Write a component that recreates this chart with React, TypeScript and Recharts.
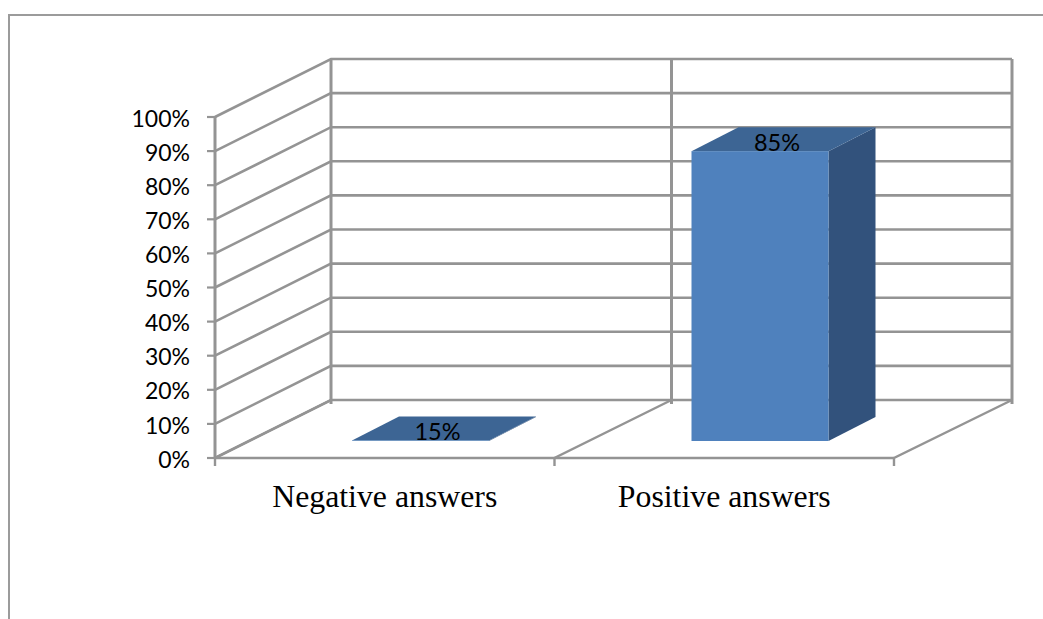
import { Bar, BarChart, CartesianGrid, LabelList, XAxis, YAxis } from "recharts";

const categories = ["Negative answers", "Positive answers"];
// the negative bar is drawn flat in the source chart although it is labelled 15%
const values = [0.15, 85];
const valueLabels = ["15%", "85%"];
const yTicks = [0, 10, 20, 30, 40, 50, 60, 70, 80, 90, 100];

const data = categories.map((name, i) => ({ name, value: values[i], label: valueLabels[i] }));

const GRID = "#949494";
const WALL_DX = 116;
const WALL_DY = 58;
const BAR_DX = 47;
const BAR_DY = 24;
const BAR_SHIFT_X = 36;
const BAR_SHIFT_Y = 17;
const LABEL_FONT = "Lato, 'Open Sans', sans-serif";

function wallLine({ x1, x2, y1 }: any) {
  return (
    <path
      key={`h-${y1}`}
      d={`M${x1},${y1} L${x1 + WALL_DX},${y1 - WALL_DY} L${x2 + WALL_DX + 2},${y1 - WALL_DY}`}
      fill="none"
      stroke={GRID}
      strokeWidth={2.6}
    />
  );
}

function wallColumn({ x1, y1, y2, index }: any) {
  const backX = x1 + WALL_DX + (index ?? 0);
  return (
    <g key={`v-${x1}`} fill="none" stroke={GRID}>
      <path d={`M${x1},${y2 + 8} L${x1},${y2} L${backX},${y2 - WALL_DY}`} strokeWidth={2.4} />
      <path d={`M${backX},${y2 - WALL_DY + 4} L${backX},${y1 - WALL_DY}`} strokeWidth={3} />
    </g>
  );
}

function Box3D({ x, y, width, height }: any) {
  const left = x + BAR_SHIFT_X;
  const right = left + width;
  const top = y - BAR_SHIFT_Y;
  const bottom = top + height;
  return (
    <g>
      <path
        d={`M${right},${top} L${right + BAR_DX},${top - BAR_DY} L${right + BAR_DX},${bottom - BAR_DY} L${right},${bottom} Z`}
        fill="#32527c"
      />
      <path
        d={`M${left},${top} L${left + BAR_DX},${top - BAR_DY} L${right + BAR_DX},${top - BAR_DY} L${right},${top} Z`}
        fill="#3d6594"
      />
      <rect x={left} y={top} width={width} height={height} fill="#4f81bd" />
    </g>
  );
}

function BarLabel({ x, y, width, value }: any) {
  return (
    <text
      x={x + BAR_SHIFT_X + width / 2 + 17}
      y={y - BAR_SHIFT_Y - 9}
      textAnchor="middle"
      dominantBaseline="central"
      fontFamily={LABEL_FONT}
      fontSize={23.5}
      fill="#000"
    >
      {value}
    </text>
  );
}

export default function App() {
  return (
    <div style={{ position: "fixed", left: 0, top: 0, width: 1043, height: 619, background: "#fff", overflow: "hidden" }}>
      <div
        style={{
          position: "absolute",
          left: 8,
          top: 14,
          right: 0,
          bottom: 0,
          borderTop: "2px solid #9b9b9b",
          borderLeft: "2px solid #9b9b9b",
        }}
      />
      <div style={{ position: "absolute", left: 0, top: 0 }}>
        <BarChart
          width={1043}
          height={619}
          data={data}
          barSize={137}
          margin={{ top: 117, right: 149, bottom: 101, left: 135 }}
        >
          <CartesianGrid
            horizontal={wallLine}
            vertical={wallColumn}
            verticalCoordinatesGenerator={({ offset }: any) =>
              [0, 1, 2].map((i) => offset.left + (i * offset.width) / categories.length)
            }
          />
          <XAxis
            dataKey="name"
            height={60}
            interval={0}
            tickLine={false}
            tickMargin={20}
            axisLine={{ stroke: GRID, strokeWidth: 2.6 }}
            tick={{ fontFamily: "'Liberation Serif', serif", fontSize: 31.8, fill: "#000" }}
          />
          <YAxis
            width={80}
            domain={[0, 100]}
            ticks={yTicks}
            interval={0}
            tickFormatter={(v: number) => `${v}%`}
            tickSize={8}
            tickMargin={17}
            axisLine={{ stroke: GRID, strokeWidth: 3 }}
            tickLine={{ stroke: GRID, strokeWidth: 2.2 }}
            tick={{ fontFamily: LABEL_FONT, fontSize: 23, fill: "#000", dy: 1.5 }}
          />
          <Bar dataKey="value" shape={<Box3D />} isAnimationActive={false}>
            <LabelList dataKey="label" content={<BarLabel />} />
          </Bar>
        </BarChart>
      </div>
    </div>
  );
}
